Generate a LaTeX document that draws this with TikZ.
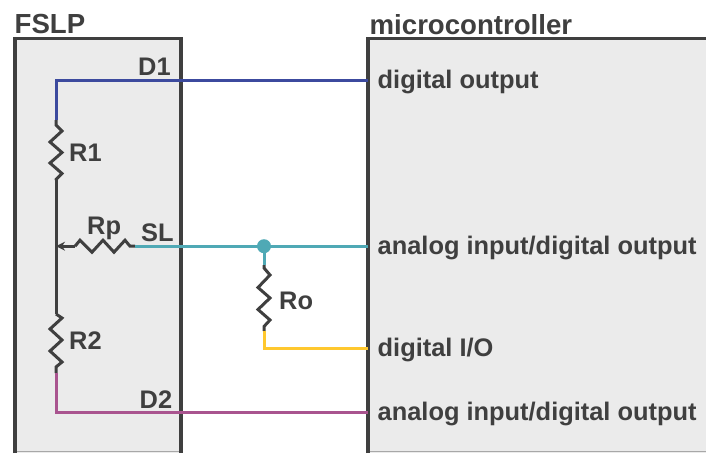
\documentclass[tikz,border=0pt]{standalone}
\usepackage{fontspec}
\setmainfont{Liberation Sans}
\usetikzlibrary{arrows.meta}
\definecolor{wiredark}{HTML}{3F3F3F}
\definecolor{boxfill}{HTML}{EBEBEB}
\definecolor{dblue}{HTML}{3C4A9E}
\definecolor{dteal}{HTML}{4FA9B5}
\definecolor{dyellow}{HTML}{FFC82E}
\definecolor{dpurple}{HTML}{A9548F}
\definecolor{edgegrey}{HTML}{A8A8A8}
\tikzset{
  x=1pt,y=-1pt,
  chip/.style={draw=none,fill=boxfill},
  border/.style={draw=wiredark,line width=3.2pt},
  wire/.style={line width=3pt,line join=miter},
  res/.style={draw=wiredark,line width=3pt,line join=miter},
  lab/.style={font=\fontsize{25.4}{28}\bfseries\selectfont,text=wiredark,inner sep=0pt,anchor=base west},
  title/.style={font=\fontsize{27.6}{30}\bfseries\selectfont,text=wiredark,inner sep=0pt,anchor=base west}
}
\begin{document}
\begin{tikzpicture}
\useasboundingbox (0,0) rectangle (706,453);
\fill[white] (0,0) rectangle (706,453);
% boxes
\fill[chip] (15,38.5) rectangle (181,453);
\fill[chip] (368,38.5) rectangle (706,453);
\draw[edgegrey,line width=1.2pt] (15,451.8) -- (181,451.8);
\draw[edgegrey,line width=1.2pt] (368,451.8) -- (706,451.8);
\draw[border] (15,453) -- (15,38.5) -- (181,38.5) -- (181,453);
\draw[border] (368,453) -- (368,38.5) -- (706,38.5);
\node[title] (tfslp) at (14.5,33.5) {FSLP};
\node[title] (tmc) at (369.5,34) {microcontroller};
% named points
\coordinate (c1) at (56,80);
\coordinate (r1t) at (56,120);
\coordinate (r1b) at (56,180);
\coordinate (r2t) at (56,314);
\coordinate (r2b) at (56,373);
\coordinate (c2) at (56,412);
\coordinate (tap) at (56,246.2);
\coordinate (rpr) at (135,246.2);
\coordinate (rpl) at (75,246.2);
\coordinate (rot) at (264,265);
\coordinate (rob) at (264,331);
\coordinate (c3) at (264,348.3);
\coordinate (p1) at (368,80);
\coordinate (p2) at (368,246.2);
\coordinate (p3) at (368,348.3);
\coordinate (p4) at (368,412);
\node[circle,fill=dteal,inner sep=0pt,minimum size=14pt] (dot) at (264,246.2) {};
% resistors
\draw[res] (r1b) -- (r2t);
\draw[res] (r1t) -- ++(0,5) -- ++(6,6) -- ++(-12,11) -- ++(12,10.5) -- ++(-12,10.5) -- ++(12,10.5) -- ++(-6,6) -- (r1b);
\draw[res] (r2t) -- ++(6,4) -- ++(-12,11) -- ++(12,11) -- ++(-12,11) -- ++(12,11) -- ++(-6,5) -- (r2b);
\draw[res] (rot) -- ++(0,3) -- ++(6,7) -- ++(-12,12.5) -- ++(12,10.5) -- ++(-12,11.5) -- ++(12,10.5) -- ++(-6,6.5) -- (rob);
\draw[res,-{Stealth[length=9pt,width=9pt]}] (rpl) -- (tap);
\draw[res] (rpr) -- ++(-5,0) -- ++(-5,-6) -- ++(-11,12) -- ++(-11,-12) -- ++(-11,12) -- ++(-12,-12) -- (rpl);
% wires
\draw[wire,draw=dblue] (r1t) -- (c1) -- (p1);
\draw[wire,draw=dteal] (rpr) -- (p2);
\draw[wire,draw=dteal] (rot) -- (dot.center);
\draw[wire,draw=dyellow] (rob) -- (c3) -- (p3);
\draw[wire,draw=dpurple] (r2b) -- (c2) -- (p4);
% labels
\node[lab] (ld1) at (138,75) {D1};
\node[lab] (lr1) at (69,161) {R1};
\node[lab] (lrp) at (87,234) {Rp};
\node[lab] (lsl) at (141,241.5) {SL};
\node[lab] (lr2) at (69,349) {R2};
\node[lab] (lro) at (279,309) {Ro};
\node[lab] (ld2) at (139.5,408) {D2};
\node[lab] (m1) at (377.5,88) {digital output};
\node[lab] (m2) at (377.5,254) {analog input/digital output};
\node[lab] (m3) at (377.5,356) {digital I/O};
\node[lab] (m4) at (377.5,420) {analog input/digital output};
\end{tikzpicture}
\end{document}
